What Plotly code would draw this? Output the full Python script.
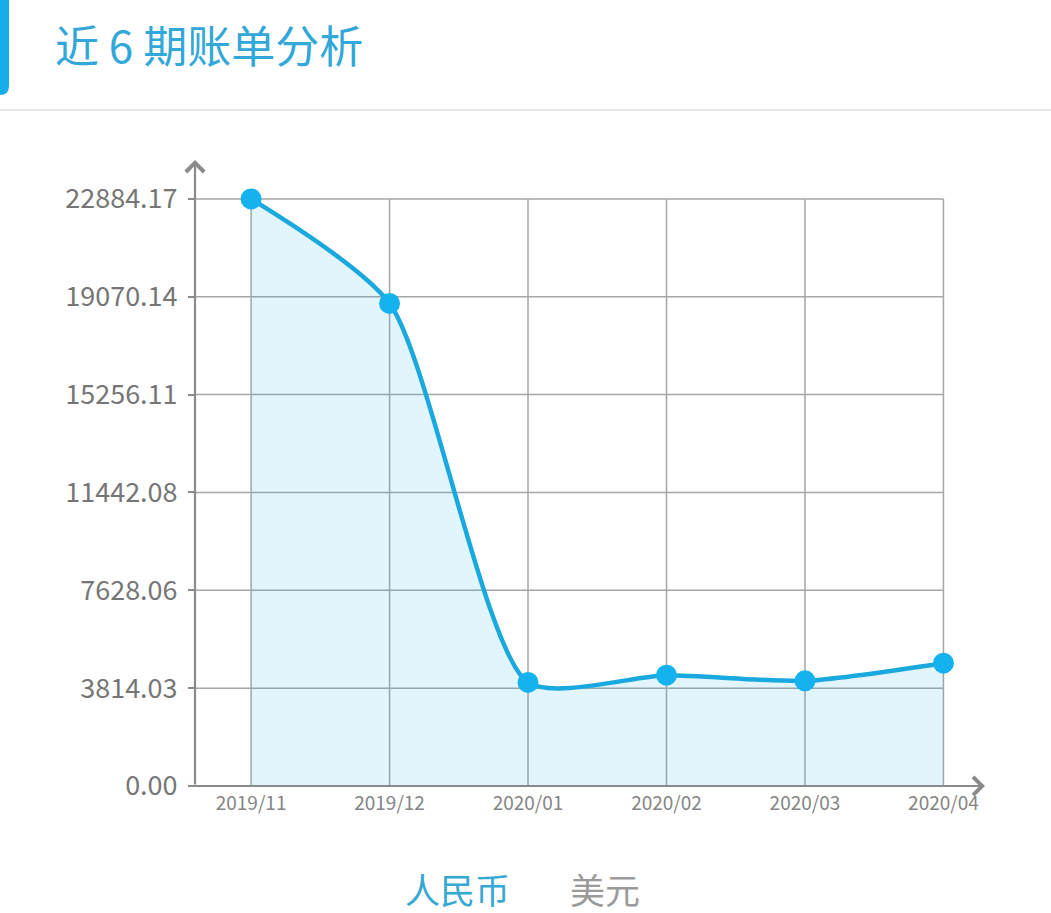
import plotly.graph_objects as go

# data
months = ["2019/11", "2019/12", "2020/01", "2020/02", "2020/03", "2020/04"]
rmb_values = [22884.17, 18810, 4036, 4320, 4098, 4787]
y_ticks = [0, 3814.03, 7628.06, 11442.08, 15256.11, 19070.14, 22884.17]
y_tick_labels = ["0.00", "3814.03", "7628.06", "11442.08", "15256.11", "19070.14", "22884.17"]
legend_names = ["人民币", "美元"]
title_text = "近 6 期账单分析"

W, H = 1051, 913
L, R, T, B = 195, 66, 160, 127
X_MIN, X_MAX = -0.405, 5.3
Y_MAX = 24400

def px2x(px):
    return (px - L) / (W - L - R)

def px2y(py):
    return (H - B - py) / (H - T - B)

blue = "#1aa9de"
grid = "#a6a6a6"
axis = "#8a8a8a"

fig = go.Figure()
fig.add_trace(go.Scatter(
    x=list(range(len(months))), y=rmb_values,
    mode="lines+markers",
    line=dict(color=blue, width=4.5, shape="spline", smoothing=0.65),
    marker=dict(color="#14b2ee", size=21),
    fill="tozeroy", fillcolor="rgba(40,180,235,0.13)",
    hoverinfo="skip", showlegend=False,
))

shapes = []
# horizontal grid
for v in y_ticks[1:]:
    shapes.append(dict(type="line", xref="x", yref="y", x0=X_MIN, x1=len(months) - 1,
                       y0=v, y1=v, line=dict(color=grid, width=1.5), layer="below"))
# vertical grid
for i in range(len(months)):
    shapes.append(dict(type="line", xref="x", yref="y", x0=i, x1=i,
                       y0=0, y1=y_ticks[-1], line=dict(color=grid, width=1.5), layer="below"))
# header decoration: blue tab with rounded bottom corner + divider
x0, x1, y0, y1 = px2x(-6), px2x(9), px2y(95), px2y(-4)
rx, ry = px2x(9) - px2x(0), px2y(0) - px2y(9)
shapes.append(dict(type="path", xref="paper", yref="paper",
                   path=(f"M {x0},{y1} L {x1},{y1} L {x1},{y0 + ry} "
                         f"Q {x1},{y0} {x1 - rx},{y0} L {x0},{y0} Z"),
                   fillcolor="#16aeea", line=dict(width=0)))
shapes.append(dict(type="line", xref="paper", yref="paper",
                   x0=px2x(0), x1=px2x(W), y0=px2y(110), y1=px2y(110),
                   line=dict(color="#e6e6e6", width=2)))

annotations = [
    # y axis arrow
    dict(x=X_MIN, y=Y_MAX, ax=X_MIN, ay=0, xref="x", yref="y", axref="x", ayref="y",
         showarrow=True, arrowhead=4, arrowsize=1.6, arrowwidth=2.2, arrowcolor=axis, text=""),
    # x axis arrow
    dict(x=X_MAX, y=0, ax=X_MIN - 0.04, ay=0, xref="x", yref="y", axref="x", ayref="y",
         showarrow=True, arrowhead=4, arrowsize=1.6, arrowwidth=2.2, arrowcolor=axis, text=""),
    # legend
    dict(x=px2x(457), y=px2y(888), xref="paper", yref="paper", showarrow=False,
         xanchor="center", yanchor="middle",
         text=legend_names[0], font=dict(size=35, color="#35a9d3")),
    dict(x=px2x(605), y=px2y(888), xref="paper", yref="paper", showarrow=False,
         xanchor="center", yanchor="middle",
         text=legend_names[1], font=dict(size=35, color="#9a9a9a")),
]

fig.update_layout(
    width=W, height=H,
    margin=dict(l=L, r=R, t=T, b=B),
    paper_bgcolor="white", plot_bgcolor="white",
    font=dict(family="Noto Sans CJK SC, Noto Sans, sans-serif", color="#707070"),
    title=dict(text=title_text, xref="container", yref="container",
               x=55 / W, y=1 - 48 / H, xanchor="left", yanchor="middle",
               font=dict(size=44, color="#31a8d9")),
    xaxis=dict(range=[X_MIN, X_MAX], tickvals=list(range(len(months))), ticktext=months,
               showgrid=False, zeroline=False, showline=False, ticks="",
               ticklabelstandoff=4,
               tickfont=dict(size=19, color="#858585")),
    yaxis=dict(range=[0, Y_MAX], tickvals=y_ticks, ticktext=y_tick_labels,
               showgrid=False, zeroline=False, showline=False,
               ticks="outside", ticklen=6, tickcolor=axis, tickwidth=2,
               ticklabelstandoff=5,
               tickfont=dict(size=27, color="#767676")),
    shapes=shapes, annotations=annotations,
)

fig.write_html("out.html", config={"displayModeBar": False},
               post_script="document.body.style.margin='0';")
